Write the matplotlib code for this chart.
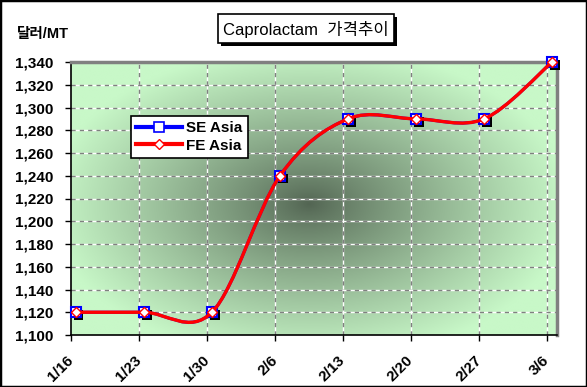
import numpy as np
import matplotlib
matplotlib.use("Agg")
import matplotlib.pyplot as plt
from matplotlib.path import Path
from matplotlib.patches import PathPatch, Rectangle
from matplotlib.lines import Line2D
import matplotlib.patheffects as pe

plt.rcParams['font.family'] = ['Liberation Sans', 'Noto Sans CJK KR', 'DejaVu Sans']

# data
dates = ['1/16', '1/23', '1/30', '2/6', '2/13', '2/20', '2/27', '3/6']
days = [0, 7, 14, 21, 28, 35, 42, 49]      # day offset from 1/16
se_asia = [1120, 1120, 1120, 1240, 1290, 1290, 1290, 1340]
fe_asia = [1120, 1120, 1120, 1240, 1290, 1290, 1290, 1340]
yticks = list(range(1100, 1341, 20))


def smooth_path(xs, ys):
    # excel style smoothed line as cubic bezier segments
    P = np.column_stack([xs, ys]).astype(float)
    n = len(P)
    verts = [P[0]]
    codes = [Path.MOVETO]
    for i in range(n - 1):
        p0 = P[max(i - 1, 0)]
        p1 = P[i]
        p2 = P[i + 1]
        p3 = P[min(i + 2, n - 1)]
        c1 = p1 + (p2 - p0) / 6
        c2 = p2 - (p3 - p1) / 6
        verts += [c1, c2, p2]
        codes += [Path.CURVE4] * 3
    return Path(verts, codes)


fig = plt.figure(figsize=(5.87, 3.87), dpi=100)
ax = fig.add_axes([71 / 587, 1 - 335 / 387, 486 / 587, 273 / 387])

# radial gradient background
u = np.linspace(0, 1, 300)
v = np.linspace(0, 1, 200)
U, V = np.meshgrid(u, v)
r = np.sqrt(((U - 0.49) / 0.54) ** 2 + ((V - 0.48) / 0.58) ** 2)
t = np.clip(r, 0, 1) ** 0.85
inner = np.array([82, 100, 82]) / 255
outer = np.array([200, 248, 200]) / 255
img = inner[None, None, :] * (1 - t[..., None]) + outer[None, None, :] * t[..., None]
ax.imshow(img, extent=[0, 1, 0, 1], transform=ax.transAxes, aspect='auto',
          origin='lower', zorder=0)

ax.set_xlim(0, 50)
ax.set_ylim(1100, 1340)
ax.set_yticks(yticks)
ax.set_yticklabels([f'{y:,}' for y in yticks], fontsize=11, fontweight='bold')
ax.set_xticks(days)
ax.set_xticklabels(dates, fontsize=11, fontweight='bold', rotation=45,
                   ha='right', va='center', rotation_mode='anchor')
ax.tick_params(axis='x', length=4, pad=13, width=1)
ax.tick_params(axis='y', length=4, pad=9, width=1)

# grid
for d in days[1:]:
    ax.axvline(d, color='white', lw=1, zorder=1)
    ax.axvline(d, color='#808080', lw=1, ls=(0, (3, 3)), zorder=1)
for y in yticks[1:-1]:
    ax.axhline(y, color='white', lw=1, zorder=1)
    ax.axhline(y, color='#808080', lw=1, ls=(0, (3, 3)), zorder=1)

for s in ['top', 'right']:
    ax.spines[s].set_color('#808080')
    ax.spines[s].set_linewidth(2.5)
for s in ['left', 'bottom']:
    ax.spines[s].set_color('black')
    ax.spines[s].set_linewidth(1.2)

xs = [d + 0.5 for d in days]

# SE Asia
ax.add_patch(PathPatch(smooth_path(xs, se_asia), fill=False, ec='blue', lw=2.2, zorder=3))
ax.plot(xs, se_asia, ls='none', marker='s', ms=7, mfc='white', mec='blue', mew=1.5,
        zorder=4, clip_on=False,
        path_effects=[pe.SimplePatchShadow(offset=(2, -2), shadow_rgbFace='black', alpha=1),
                      pe.Normal()])

# FE Asia
ax.add_patch(PathPatch(smooth_path(xs, fe_asia), fill=False, ec='red', lw=2.4,
                       capstyle='round', zorder=5))
ax.plot(xs, fe_asia, ls='none', marker='D', ms=5, mfc='white', mec='red', mew=1,
        zorder=6, clip_on=False)

handles = [
    Line2D([], [], color='blue', lw=3, marker='s', ms=7, mfc='white', mec='blue', mew=1.2),
    Line2D([], [], color='red', lw=3, marker='D', ms=5, mfc='white', mec='red', mew=1),
]
leg = fig.legend(handles, ['SE Asia', 'FE Asia'], loc='upper left',
                 bbox_to_anchor=(126 / 587, 1 - 111 / 387), fancybox=False,
                 edgecolor='black', framealpha=1, prop={'size': 11, 'weight': 'bold'},
                 handlelength=3.0, borderpad=0.35, labelspacing=0.25, handletextpad=0.3,
                 borderaxespad=0.3)
leg.get_frame().set_linewidth(1.2)
leg.set_zorder(10)

# title box with shadow
fig.patches.append(Rectangle((221 / 587, 1 - 46 / 387), 176 / 587, 29 / 387,
                             transform=fig.transFigure, fc='black', ec='none'))
fig.patches.append(Rectangle((218 / 587, 1 - 43 / 387), 176 / 587, 29 / 387,
                             transform=fig.transFigure, fc='white', ec='black', lw=1.2))
fig.text(306 / 587, 1 - 29 / 387, 'Caprolactam  가격추이', ha='center', va='center',
         fontsize=12)

fig.text(17 / 587, 1 - 34 / 387, '달러/MT', ha='left', va='center', fontsize=10.5,
         fontweight='bold')

# outer border
fig.patches.append(Rectangle((0, 0), 1, 1, transform=fig.transFigure, fill=False,
                             ec='black', lw=2.5))

fig.savefig('out.png', dpi=100)
